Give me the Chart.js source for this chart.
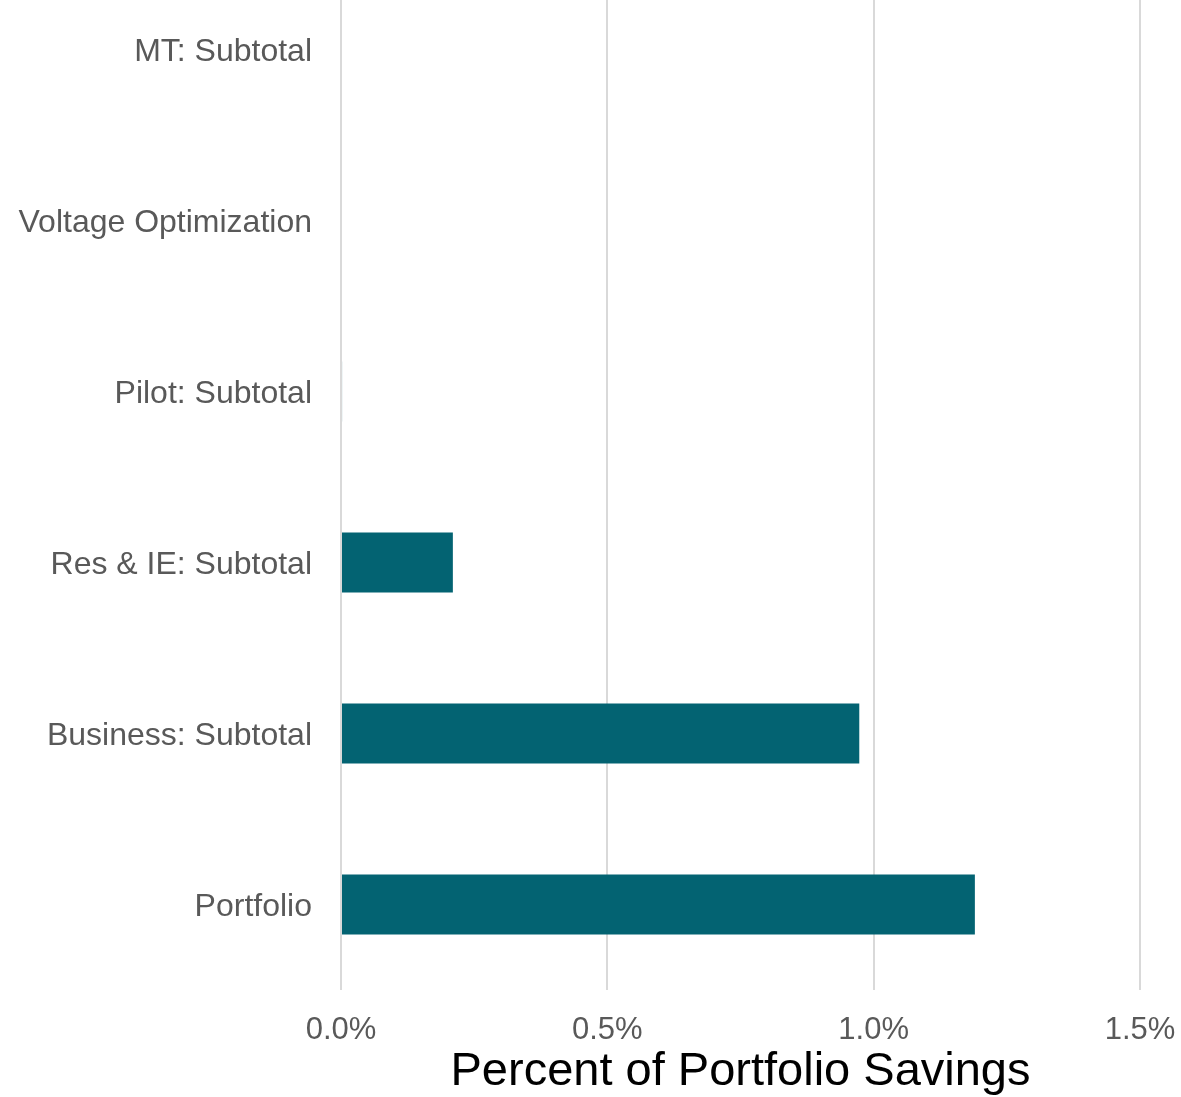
<!DOCTYPE html>
<html>
<head>
<meta charset="utf-8">
<script src="https://cdn.jsdelivr.net/npm/chart.js@4/dist/chart.umd.min.js"></script>
<style>
  html, body { margin: 0; padding: 0; background: #fff; overflow: hidden; }
  #wrap { position: absolute; left: 0; top: -40px; width: 1181px; height: 1137px; }
</style>
</head>
<body>
<div id="wrap"><canvas id="chart"></canvas></div>
<script>
// categories top to bottom
const categories = ['MT: Subtotal', 'Voltage Optimization', 'Pilot: Subtotal', 'Res & IE: Subtotal', 'Business: Subtotal', 'Portfolio'];
// percent of portfolio savings
const savingsPct = [0, 0, 0.002, 0.21, 0.973, 1.19];
const xTicks = [0, 0.5, 1.0, 1.5];

const barColor = '#036372';
const font = 'Liberation Sans, Arial, sans-serif';

new Chart(document.getElementById('chart'), {
  type: 'bar',
  data: {
    labels: categories,
    datasets: [{
      data: savingsPct,
      backgroundColor: barColor,
      borderWidth: 0,
      categoryPercentage: 1,
      barPercentage: 0.35
    }]
  },
  options: {
    indexAxis: 'y',
    responsive: true,
    maintainAspectRatio: false,
    animation: false,
    layout: { padding: { top: 4, right: 41, bottom: 0, left: 0 } },
    plugins: { legend: { display: false }, tooltip: { enabled: false } },
    scales: {
      x: {
        min: 0,
        max: 1.5,
        afterBuildTicks: (scale) => { scale.ticks = xTicks.map(v => ({ value: v })); },
        afterFit: (scale) => {
          scale.height = 107;
          scale.paddingLeft = 0;
          scale.paddingRight = 0;
        },
        ticks: {
          color: '#595959',
          font: { family: font, size: 31 },
          padding: 22,
          maxRotation: 0,
          callback: (v) => Number(v).toFixed(1) + '%'
        },
        grid: { color: '#d9d9d9', lineWidth: 2, drawTicks: false },
        border: { display: false },
        title: {
          display: true,
          text: 'Percent of Portfolio Savings',
          color: '#000',
          font: { family: font, size: 47 },
          padding: { top: 0, bottom: -3 }
        }
      },
      y: {
        afterFit: (scale) => {
          scale.width = 341;
          scale.paddingTop = 0;
          scale.paddingBottom = 0;
        },
        ticks: {
          color: '#595959',
          font: { family: font, size: 32 },
          padding: 29,
          labelOffset: 3
        },
        grid: { display: false, drawTicks: false },
        border: { display: false }
      }
    }
  }
});
</script>
</body>
</html>
